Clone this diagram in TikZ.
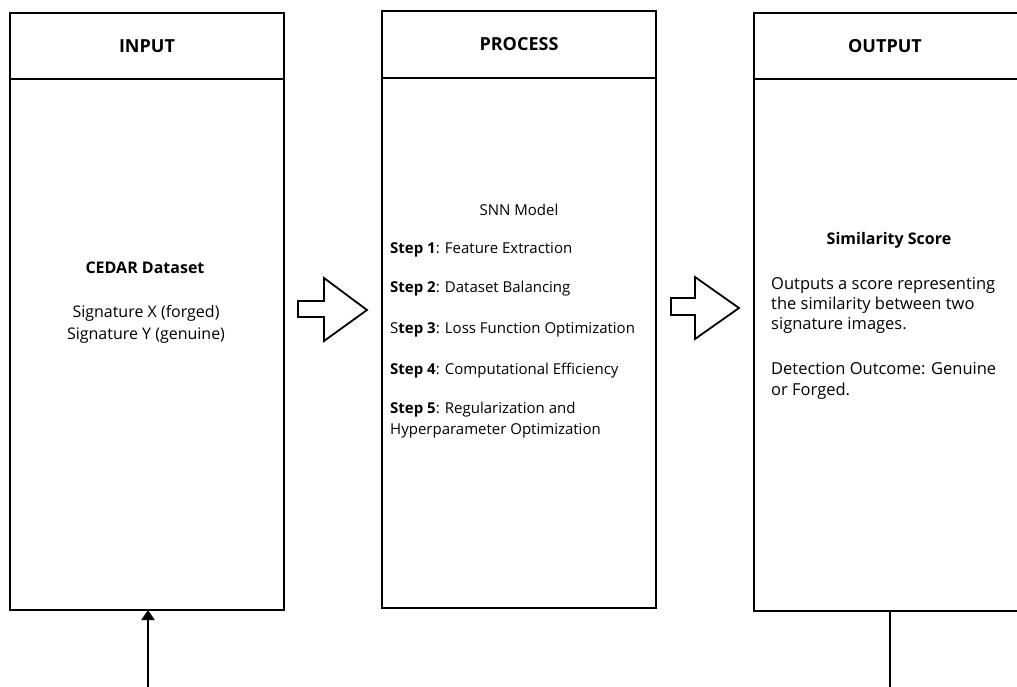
\documentclass[tikz,border=0pt]{standalone}
\usepackage{fontspec}
\setmainfont{Open Sans}
\usetikzlibrary{arrows.meta}
\begin{document}
\begin{tikzpicture}[x=1pt,y=-1pt,
  frame/.style={draw=black, line width=2.6pt, minimum width=274pt, inner sep=0pt, outer sep=0pt},
  hdr/.style={font=\fontsize{18}{21}\selectfont\bfseries},
  txt/.style={font=\fontsize{15}{20.5}\selectfont, inner sep=0pt},
  blockarrow/.style={draw=black, line width=1.8pt, fill=white, line join=miter},
  conn/.style={draw=black, line width=2.4pt}]
\useasboundingbox (0,0) rectangle (1017,686);
\clip (0,0) rectangle (1017,686);
% INPUT column
\node[frame, hdr, minimum height=66pt] (inhead) at (147,46) {INPUT};
\node[frame, minimum height=531pt] (inbody) at (147,344.5) {};
% PROCESS column
\node[frame, hdr, minimum height=67pt] (prochead) at (519,44.5) {PROCESS};
\node[frame, minimum height=530pt] (procbody) at (519,343) {};
% OUTPUT column
\node[frame, minimum width=268pt, minimum height=66pt] (outhead) at (888,46) {};
\node[hdr, inner sep=0pt] (outtitle) at (885,46) {OUTPUT};
\node[frame, minimum width=268pt, minimum height=532pt] (outbody) at (888,345) {};
% input texts
\node[txt, font=\fontsize{16}{20}\selectfont\bfseries] (cedar) at (145,268) {CEDAR Dataset};
\node[txt, align=center, font=\fontsize{16}{22}\selectfont] (sigs) at (146,324) {Signature X (forged)\\Signature Y (genuine)};
% process texts
\node[txt] (snn) at (519,210) {SNN Model};
\node[txt, anchor=west] (s1) at (390,250) {\textbf{Step 1}: Feature Extraction};
\node[txt, anchor=west] (s2) at (390,289) {\textbf{Step 2}: Dataset Balancing};
\node[txt, anchor=west] (s3) at (390,330) {S\textbf{tep 3}: Loss Function Optimization};
\node[txt, anchor=west] (s4) at (390,371) {\textbf{Step 4}: Computational Efficiency};
\node[txt, anchor=west, align=left] (s5) at (390,420) {\textbf{Step 5}: Regularization and\\Hyperparameter Optimization};
% output texts
\node[txt, font=\fontsize{16}{20}\selectfont\bfseries] (sim) at (889,240) {Similarity Score};
\node[txt, anchor=west, align=left, font=\fontsize{16.5}{20}\selectfont] (desc) at (771,305) {Outputs a score representing\\the similarity between two\\signature images.};
\node[txt, anchor=west, align=left, font=\fontsize{16.5}{21}\selectfont] (det) at (771,380.5) {Detection Outcome: Genuine\\or Forged.};
% block arrows
\draw[blockarrow] (298,301) -- (324,301) -- (324,278) -- (367,310) -- (324,341) -- (324,317) -- (298,317) -- cycle;
\draw[blockarrow] (671,298) -- (695,298) -- (695,277) -- (739,308) -- (695,339) -- (695,315) -- (671,315) -- cycle;
% connectors
\coordinate (insrc) at (148,690);
\coordinate (outdst) at (890,690);
\draw[conn, -{Triangle[length=10pt,width=13pt]}] (insrc) -- (insrc |- inbody.south);
\draw[conn] (outbody.south -| outdst) -- (outdst);
\end{tikzpicture}
\end{document}
